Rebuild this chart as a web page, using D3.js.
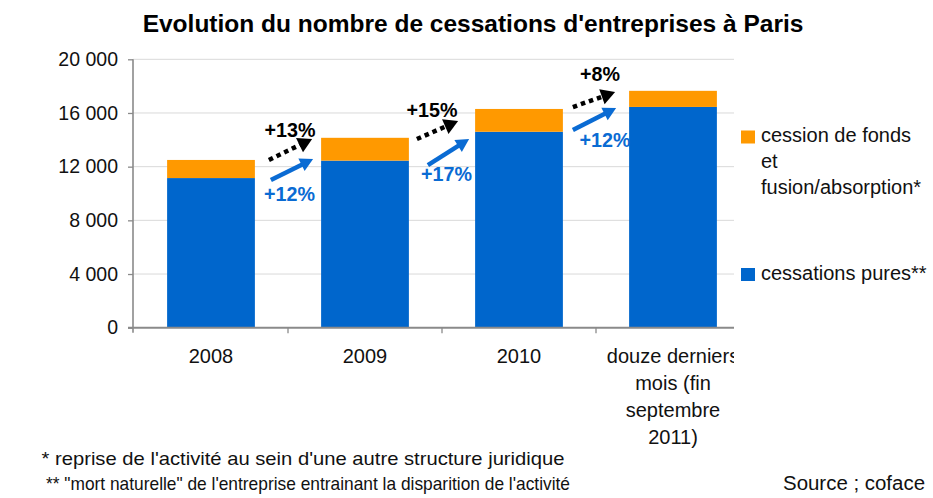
<!DOCTYPE html>
<html>
<head>
<meta charset="utf-8">
<script src="https://cdn.jsdelivr.net/npm/d3@7"></script>
<style>
  html, body { margin: 0; padding: 0; background: #ffffff; }
  svg { display: block; font-family: "Liberation Sans", Arial, sans-serif; }
</style>
</head>
<body>
<svg id="chart" width="933" height="498"></svg>
<script>
// Cessations d'entreprises à Paris (source : Coface)
const categories = ["2008", "2009", "2010", "douze derniers\nmois (fin\nseptembre\n2011)"];
const cessationsPures = [11150, 12450, 14600, 16450];
const cessionFusion   = [1350, 1700, 1700, 1200];
const yTicks = [0, 4000, 8000, 12000, 16000, 20000];
const seriesNames = ["cession de fonds\net\nfusion/absorption*", "cessations pures**"];

// Growth annotations between consecutive periods
const totalGrowth = ["+13%", "+15%", "+8%"];
const pureGrowth  = ["+12%", "+17%", "+12%"];

const colors = { pure: "#0066CC", fusion: "#FF9900", annot: "#0A6BD3", axis: "#8a8a8a", grid: "#d9d9d9" };

const svg = d3.select("#chart");
const plotLeft = 133, plotRight = 734, plotTop = 59.3, plotBottom = 327.7;

const x = d3.scaleBand().domain(categories).range([134, 750]).paddingInner(0.43).paddingOuter(0.215);
const y = d3.scaleLinear().domain([0, 20000]).range([plotBottom, plotTop]);
const fmt = d3.formatLocale({ decimal: ",", thousands: " ", grouping: [3], currency: ["", " €"] }).format(",d");

// Title
svg.append("text")
  .attr("x", 473).attr("y", 31.5)
  .attr("text-anchor", "middle")
  .attr("font-size", 24.5).attr("font-weight", "bold").attr("fill", "#000")
  .text("Evolution du nombre de cessations d'entreprises à Paris");

// Gridlines
svg.append("g").selectAll("line").data(yTicks.filter(d => d > 0)).join("line")
  .attr("x1", plotLeft).attr("x2", plotRight)
  .attr("y1", d => y(d)).attr("y2", d => y(d))
  .attr("stroke", colors.grid).attr("stroke-width", 1);

// Stacked bars
const stacked = categories.map((c, i) => ({ cat: c, pure: cessationsPures[i], fusion: cessionFusion[i] }));
const stack = d3.stack().keys(["pure", "fusion"])(stacked);
svg.append("g").selectAll("g").data(stack).join("g")
  .attr("fill", d => colors[d.key])
  .selectAll("rect").data(d => d).join("rect")
  .attr("x", d => x(d.data.cat))
  .attr("width", x.bandwidth())
  .attr("y", d => y(d[1]))
  .attr("height", d => y(d[0]) - y(d[1]));

// Y axis
const yAxis = svg.append("g").attr("transform", `translate(${plotLeft},0)`)
  .call(d3.axisLeft(y).tickValues(yTicks).tickFormat(fmt).tickSize(5).tickPadding(10));
yAxis.select(".domain").remove();
yAxis.selectAll(".tick line").attr("stroke", colors.axis).attr("stroke-width", 1.3);
yAxis.selectAll(".tick text")
  .attr("font-family", "Liberation Sans, Arial, sans-serif")
  .attr("font-size", 19.5).attr("fill", "#111");
svg.append("line")
  .attr("x1", plotLeft).attr("x2", plotLeft).attr("y1", plotTop).attr("y2", plotBottom + 5)
  .attr("stroke", colors.axis).attr("stroke-width", 1.6);

// X axis baseline and separators between categories
svg.append("line")
  .attr("x1", plotLeft - 5).attr("x2", plotRight).attr("y1", plotBottom).attr("y2", plotBottom)
  .attr("stroke", colors.axis).attr("stroke-width", 2);
const step = x.step();
svg.append("g").selectAll("line").data(categories.slice(1)).join("line")
  .attr("x1", d => x(d) - step * x.paddingInner() / 2)
  .attr("x2", d => x(d) - step * x.paddingInner() / 2)
  .attr("y1", plotBottom).attr("y2", plotBottom + 5.5)
  .attr("stroke", colors.axis).attr("stroke-width", 1.3);

// Category labels (clipped to the chart area on the right)
svg.append("clipPath").attr("id", "catClip")
  .append("rect").attr("x", 0).attr("y", 330).attr("width", plotRight).attr("height", 130);
const catLabels = svg.append("g").attr("clip-path", "url(#catClip)")
  .selectAll("text").data(categories).join("text")
  .attr("x", d => x(d) + x.bandwidth() / 2)
  .attr("y", 363)
  .attr("text-anchor", "middle")
  .attr("font-size", 20).attr("fill", "#111");
catLabels.each(function (d) {
  const t = d3.select(this);
  const cx = x(d) + x.bandwidth() / 2;
  d.split("\n").forEach((line, i) => {
    t.append("tspan").attr("x", cx).attr("dy", i === 0 ? 0 : 27).text(line);
  });
});

// Legend
const legend = svg.append("g");
const legendItems = [
  { name: seriesNames[0], color: colors.fusion, top: 130.5 },
  { name: seriesNames[1], color: colors.pure, top: 268 }
];
legendItems.forEach(item => {
  legend.append("rect")
    .attr("x", 741).attr("y", item.top).attr("width", 14).attr("height", 13)
    .attr("fill", item.color);
  const t = legend.append("text")
    .attr("x", 761).attr("y", item.top + 11.5)
    .attr("font-size", 20).attr("fill", "#111");
  item.name.split("\n").forEach((line, i) => {
    t.append("tspan").attr("x", 761).attr("dy", i === 0 ? 0 : 26).text(line);
  });
});

// Growth arrows: each runs across the gap between two bars,
// from the level of the earlier stack to the level of the next one.
const arrowLayout = [
  { gap: 0, kind: "total", dx0: 14, dx1: -9,  v0: 12500, v1: 14060 },
  { gap: 1, kind: "total", dx0: 8,  dx1: -17, v0: 14060, v1: 15400 },
  { gap: 2, kind: "total", dx0: 10, dx1: -14, v0: 16440, v1: 17560 },
  { gap: 0, kind: "pure",  dx0: 16, dx1: -8,  v0: 11000, v1: 12570 },
  { gap: 1, kind: "pure",  dx0: 19, dx1: -6,  v0: 12120, v1: 14060 },
  { gap: 2, kind: "pure",  dx0: 10, dx1: -13, v0: 14730, v1: 16370 }
];
const labelLayout = [
  { gap: 0, kind: "total", dx: 2,   v: 14210 },
  { gap: 1, kind: "total", dx: -10, v: 15720 },
  { gap: 2, kind: "total", dx: 4,   v: 18380 },
  { gap: 0, kind: "pure",  dx: 1.5, v: 9440 },
  { gap: 1, kind: "pure",  dx: 4.5, v: 10930 },
  { gap: 2, kind: "pure",  dx: 9,   v: 13490 }
];

const arrows = svg.append("g");
arrowLayout.forEach(a => {
  const x0 = x(categories[a.gap]) + x.bandwidth() + a.dx0;
  const x1 = x(categories[a.gap + 1]) + a.dx1;
  const y0 = y(a.v0), y1 = y(a.v1);
  const ang = Math.atan2(y1 - y0, x1 - x0);
  const color = a.kind === "total" ? "#000" : colors.annot;
  const headLen = a.kind === "total" ? 14 : 13;
  const headHalf = a.kind === "total" ? 8 : 7;
  const bx = x1 - headLen * Math.cos(ang), by = y1 - headLen * Math.sin(ang);
  arrows.append("line")
    .attr("x1", x0).attr("y1", y0).attr("x2", bx + 2 * Math.cos(ang)).attr("y2", by + 2 * Math.sin(ang))
    .attr("stroke", color).attr("stroke-width", 4.5)
    .attr("stroke-dasharray", a.kind === "total" ? "4.5,4" : null);
  const px = -Math.sin(ang), py = Math.cos(ang);
  arrows.append("path")
    .attr("d", `M${x1},${y1}L${bx + px * headHalf},${by + py * headHalf}L${bx - px * headHalf},${by - py * headHalf}Z`)
    .attr("fill", color);
});

svg.append("g").selectAll("text").data(labelLayout).join("text")
  .attr("x", d => (x(categories[d.gap]) + x.bandwidth() + x(categories[d.gap + 1])) / 2 + d.dx)
  .attr("y", d => y(d.v))
  .attr("text-anchor", "middle")
  .attr("font-size", 19.7).attr("font-weight", "bold")
  .attr("fill", d => d.kind === "total" ? "#000" : colors.annot)
  .text(d => {
    const i = labelLayout.filter(l => l.kind === d.kind).indexOf(d);
    return d.kind === "total" ? totalGrowth[i] : pureGrowth[i];
  });

// Footnotes and source
const notes = svg.append("g").attr("font-size", 18.2).attr("fill", "#111");
notes.append("text").attr("x", 41.5).attr("y", 464.5)
  .attr("textLength", 523).attr("lengthAdjust", "spacingAndGlyphs")
  .text("* reprise de l'activité au sein d'une autre structure juridique");
notes.append("text").attr("x", 46).attr("y", 490)
  .attr("textLength", 524).attr("lengthAdjust", "spacingAndGlyphs")
  .text("** \"mort naturelle\" de l'entreprise entrainant la disparition de l'activité");
notes.append("text").attr("x", 783).attr("y", 490)
  .attr("font-size", 19.5)
  .attr("textLength", 142).attr("lengthAdjust", "spacingAndGlyphs")
  .text("Source ; coface");
</script>
</body>
</html>
